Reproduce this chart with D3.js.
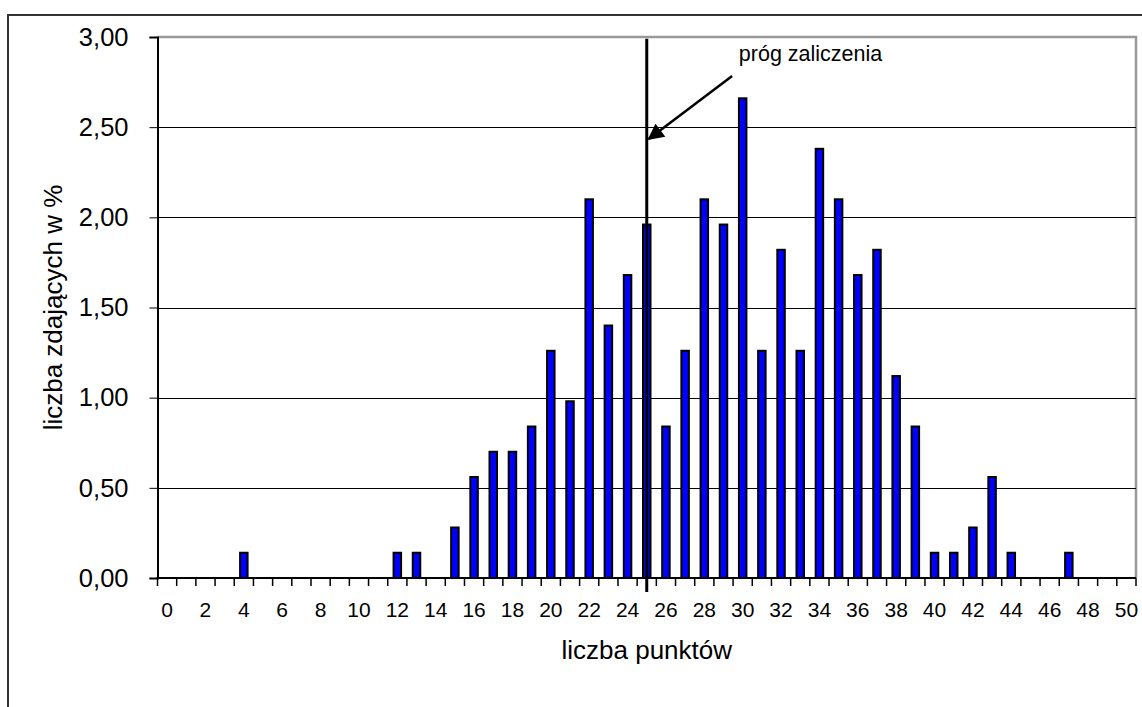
<!DOCTYPE html>
<html>
<head>
<meta charset="utf-8">
<script src="https://cdn.jsdelivr.net/npm/d3@7"></script>
<style>
  html, body { margin: 0; padding: 0; background: #fff; }
  svg { display: block; }
  text { font-family: "Liberation Sans", Arial, sans-serif; fill: #000; }
</style>
</head>
<body>
<svg id="chart" width="1142" height="707"></svg>
<script>
// ---- data ----
const points = d3.range(0, 51);                 // liczba punktów 0..50
const percentByPoint = {                          // liczba zdających w % (non-zero values)
  4: 0.14, 12: 0.14, 13: 0.14, 15: 0.28, 16: 0.56, 17: 0.70, 18: 0.70, 19: 0.84,
  20: 1.26, 21: 0.98, 22: 2.10, 23: 1.40, 24: 1.68, 25: 1.96, 26: 0.84, 27: 1.26,
  28: 2.10, 29: 1.96, 30: 2.66, 31: 1.26, 32: 1.82, 33: 1.26, 34: 2.38, 35: 2.10,
  36: 1.68, 37: 1.82, 38: 1.12, 39: 0.84, 40: 0.14, 41: 0.14, 42: 0.28, 43: 0.56,
  44: 0.14, 47: 0.14
};
const values = points.map(p => percentByPoint[p] || 0);
const yTicks = [0, 0.5, 1, 1.5, 2, 2.5, 3];
const xTickLabels = d3.range(0, 51, 2);
const threshold = 25;
const thresholdLabel = "próg zaliczenia";
const xTitle = "liczba punktów";
const yTitle = "liczba zdających w %";

// ---- layout ----
const svg = d3.select("#chart");
const plot = { left: 157.5, right: 1136, top: 37, bottom: 578 };

const x = d3.scaleBand().domain(points).range([plot.left, plot.right])
  .paddingInner(0.5).paddingOuter(0.25);
const step = x.step();
const xc = d => x(d) + x.bandwidth() / 2;
const y = d3.scaleLinear().domain([0, 3]).range([plot.bottom, plot.top]);
const fmt = v => d3.format(".2f")(v).replace(".", ",");

// outer chart frame
svg.append("rect").attr("x", 8).attr("y", 15).attr("width", 1160).attr("height", 720)
  .attr("fill", "none").attr("stroke", "#333").attr("stroke-width", 2);

// plot area border (gray top/right)
svg.append("path")
  .attr("d", `M${plot.left},${plot.top}H${plot.right}V${plot.bottom}`)
  .attr("fill", "none").attr("stroke", "#999").attr("stroke-width", 2.5);

// gridlines
svg.append("g").selectAll("line").data(yTicks.filter(t => t > 0 && t < 3)).join("line")
  .attr("x1", plot.left).attr("x2", plot.right)
  .attr("y1", d => Math.round(y(d)) + 0.5).attr("y2", d => Math.round(y(d)) + 0.5)
  .attr("stroke", "#000").attr("stroke-width", 1);

// y axis
const yAxis = svg.append("g").attr("transform", `translate(${plot.left},0)`)
  .call(d3.axisLeft(y).tickValues(yTicks).tickFormat(fmt).tickSize(8).tickPadding(21));
yAxis.select(".domain").attr("stroke", "#000").attr("stroke-width", 2);
yAxis.selectAll(".tick line").attr("stroke", "#000").attr("stroke-width", 1);
yAxis.selectAll(".tick text").attr("font-size", 25.5).attr("font-family", "Liberation Sans, Arial, sans-serif").attr("fill", "#000");

// bars
svg.append("g").selectAll("rect").data(points).join("rect")
  .attr("x", d => xc(d) - 3.75)
  .attr("width", 7.5)
  .attr("y", (d, i) => y(values[i]))
  .attr("height", (d, i) => plot.bottom - y(values[i]))
  .attr("fill", "#0000ff").attr("stroke", "#000").attr("stroke-width", 2)
  .attr("display", (d, i) => values[i] > 0 ? null : "none");

// x axis (ticks at category boundaries)
const xg = svg.append("g");
xg.append("line").attr("x1", plot.left - 1).attr("x2", plot.right)
  .attr("y1", plot.bottom).attr("y2", plot.bottom).attr("stroke", "#000").attr("stroke-width", 2);
xg.selectAll("line.tk").data(d3.range(0, 52)).join("line").attr("class", "tk")
  .attr("x1", i => plot.left + i * step).attr("x2", i => plot.left + i * step)
  .attr("y1", plot.bottom).attr("y2", plot.bottom + 8)
  .attr("stroke", "#000").attr("stroke-width", 1.5);
xg.selectAll("text").data(xTickLabels).join("text")
  .attr("x", d => xc(d)).attr("y", 617)
  .attr("text-anchor", "middle").attr("font-size", 21)
  .text(d => d);

// threshold line
svg.append("line")
  .attr("x1", xc(threshold)).attr("x2", xc(threshold))
  .attr("y1", y(2.99)).attr("y2", plot.bottom + 14)
  .attr("stroke", "#000").attr("stroke-width", 3);

// arrow annotation
svg.append("defs").append("marker").attr("id", "arr")
  .attr("viewBox", "0 0 10 10").attr("refX", 9).attr("refY", 5)
  .attr("markerWidth", 7.5).attr("markerHeight", 6.5).attr("markerUnits", "strokeWidth")
  .attr("orient", "auto")
  .append("path").attr("d", "M0,0L10,5L0,10z").attr("fill", "#000");
svg.append("line")
  .attr("x1", x(29) + step * 0.7).attr("y1", y(2.784))
  .attr("x2", xc(threshold) + 2).attr("y2", y(2.434))
  .attr("stroke", "#000").attr("stroke-width", 2.5).attr("marker-end", "url(#arr)");
svg.append("text")
  .attr("x", x(29) + step * 1.05).attr("y", y(2.866))
  .attr("font-size", 21.5).text(thresholdLabel);

// axis titles
svg.append("text").attr("x", (plot.left + plot.right) / 2).attr("y", 659)
  .attr("text-anchor", "middle").attr("font-size", 26).text(xTitle);
svg.append("text").attr("transform", `translate(62,${(plot.top + plot.bottom) / 2}) rotate(-90)`)
  .attr("text-anchor", "middle").attr("font-size", 26).text(yTitle);
</script>
</body>
</html>
